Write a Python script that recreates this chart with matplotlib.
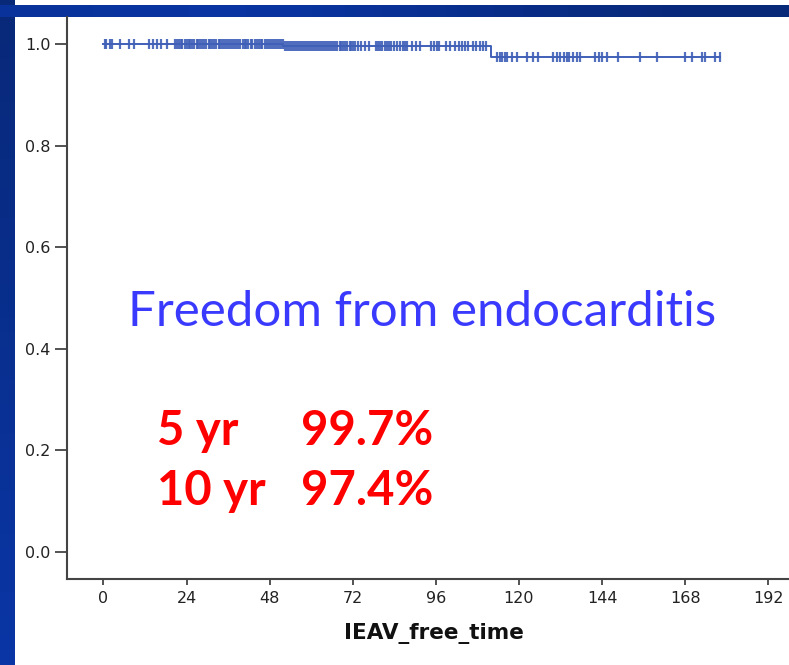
import numpy as np
import matplotlib
matplotlib.use("Agg")
import matplotlib.pyplot as plt
from matplotlib.colors import LinearSegmentedColormap

# ---- Kaplan-Meier data (months) ----
event_times = [52.0, 112.0]
surv_after_event = [0.997, 0.974]
last_follow_up = 178.0

censor_times = [
    0.5, 0.8, 1.9, 2.5, 4.8, 7.4, 8.9, 13.2, 14.4, 15.5, 16.7, 18.4,
    20.8, 21.3, 21.9, 22.4, 22.8, 23.5, 24.1, 24.6, 25.0, 25.7, 26.2, 26.9,
    27.3, 27.8, 28.5, 29.0, 29.6, 30.4, 30.9, 31.5, 32.0, 32.6, 33.3, 33.8,
    34.2, 34.9, 35.5, 36.0, 36.7, 37.1, 37.8, 38.4, 38.9, 39.5, 40.2, 40.8,
    41.3, 41.9, 42.5, 43.0, 43.7, 44.3, 44.8, 45.4, 45.9, 46.6, 47.2, 47.7,
    48.3, 48.9, 49.5, 50.1, 50.6, 51.3, 51.8, 52.4, 52.9, 53.6, 54.2, 54.7,
    55.3, 55.9, 56.5, 57.0, 57.7, 58.2, 58.8, 59.4, 60.0, 60.6, 61.1, 61.8,
    62.3, 62.9, 63.5, 64.0, 64.7, 65.2, 65.8, 66.4, 67.0, 67.5, 68.2, 68.7,
    69.3, 69.9, 70.4, 71.1, 71.6, 72.2, 72.8, 73.4,
    74.5, 75.6, 76.8,
    78.6, 79.3, 79.9, 80.6, 81.2, 81.9, 82.5, 83.2, 84.0, 84.8, 85.6, 86.4,
    87.1, 87.8,
    89.2, 90.4, 91.3,
    94.5, 95.4, 96.3, 97.0,
    98.8, 100.1, 101.5,
    102.6, 103.5, 104.4, 105.2,
    106.8, 107.6, 108.7, 109.5, 110.6,
    113.8, 114.5, 115.2, 116.0, 116.6, 118.0, 119.4,
    122.3, 124.1, 125.5,
    129.8, 130.9, 132.0, 133.1, 133.8, 134.6, 135.5, 136.9, 137.6,
    142.0, 143.1, 144.0, 145.3,
    148.6, 155.0, 159.9,
    168.0, 170.0, 172.9, 173.8, 176.6, 178.0,
]

x_ticks = [0, 24, 48, 72, 96, 120, 144, 168, 192]
y_ticks = [0.0, 0.2, 0.4, 0.6, 0.8, 1.0]
x_label = "IEAV_free_time"
title_text = "Freedom from endocarditis"
rate_rows = [("5 yr", "99.7%"), ("10 yr", "97.4%")]

W, H = 789, 665
fig = plt.figure(figsize=(W / 100, H / 100), dpi=100)
fig.patch.set_facecolor("white")

# ---- slide frame: navy bands on the left and top ----
bg = fig.add_axes([0, 0, 1, 1], zorder=-10)
bg.set_xlim(0, W)
bg.set_ylim(H, 0)
bg.axis("off")
navy = LinearSegmentedColormap.from_list("navy", ["#082878", "#0a36a6"])
left_grad = np.linspace(0, 1, 256).reshape(-1, 1)
bg.imshow(left_grad, cmap=navy, extent=[0, 15, H, 0], aspect="auto")
top_grad = np.array([[0.35, 0.45, 0.3, 0.15, 0.05]])
bg.imshow(top_grad, cmap=navy, extent=[0, W, 17, 5], aspect="auto",
          interpolation="bicubic")

# ---- main plot ----
ax_left, ax_bottom = 66.7 / W, 1 - 579 / H
ax = fig.add_axes([ax_left, ax_bottom, 1 - ax_left, (579 - 17) / H])
ax.set_facecolor("white")

# step curve built from the event table
step_x = [0.0]
step_y = [1.0]
for t, s in zip(event_times, surv_after_event):
    step_x.append(t)
    step_y.append(s)
step_x.append(last_follow_up)
step_y.append(step_y[-1])

curve_color = "#4060b8"
ax.step(step_x, step_y, where="post", color=curve_color, lw=1.4)


def surv_at(t):
    s = 1.0
    for et, es in zip(event_times, surv_after_event):
        if t >= et:
            s = es
    return s


ax.plot(censor_times, [surv_at(t) for t in censor_times], ls="none",
        marker="|", ms=6.5, mew=1.6, color=curve_color, alpha=0.9)

ax.set_xlim(-10.6, 198.0)
ax.set_ylim(-0.0538, 1.0532)
ax.set_xticks(x_ticks)
ax.set_yticks(y_ticks)
ax.set_xticklabels([str(v) for v in x_ticks])
ax.set_yticklabels([f"{v:.1f}" for v in y_ticks])

for side in ("top", "right"):
    ax.spines[side].set_visible(False)
for side in ("left", "bottom"):
    ax.spines[side].set_color("#444444")
    ax.spines[side].set_linewidth(1.5)

ax.tick_params(axis="y", direction="out", length=9, width=1.3,
               color="#444444", pad=2.5, labelcolor="#222222",
               labelsize=11.5)
ax.tick_params(axis="x", direction="out", length=4.5, width=1.3,
               color="#444444", pad=4, labelcolor="#222222",
               labelsize=11.5)
for lab in ax.get_xticklabels() + ax.get_yticklabels():
    lab.set_fontfamily("DejaVu Sans")

fig.text(434 / W, 1 - 633 / H, x_label, ha="center", va="center",
         fontsize=15.5, fontweight="bold", family="DejaVu Sans",
         color="#111111")

# ---- annotations ----
fig.text(422 / W, 1 - 312 / H, title_text, ha="center", va="center",
         fontsize=35.5, family="Lato", color="#3a3aff")

row_y = [431, 491]
for (label, pct), yy in zip(rate_rows, row_y):
    fig.text(157 / W, 1 - yy / H, label, ha="left", va="center",
             fontsize=34, fontweight="bold", family="Lato", color="#ff0000")
    fig.text(301 / W, 1 - yy / H, pct, ha="left", va="center",
             fontsize=34, fontweight="bold", family="Lato", color="#ff0000")

fig.savefig("out.png", dpi=100)
